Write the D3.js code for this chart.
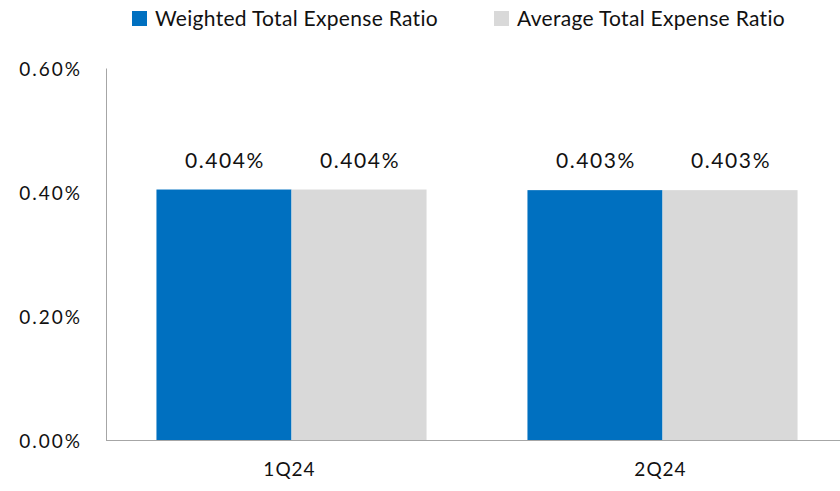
<!DOCTYPE html>
<html><head><meta charset="utf-8">
<script src="https://cdn.jsdelivr.net/npm/d3@7"></script>
<style>body{margin:0;background:#fff}svg{display:block}text{font-family:Lato,"Noto Sans",sans-serif;fill:#111}</style>
</head><body><svg id="c" width="840" height="491"></svg>
<script>
const categories = ["1Q24", "2Q24"];
const seriesNames = ["Weighted Total Expense Ratio", "Average Total Expense Ratio"];
const weighted = [0.404, 0.403];
const average = [0.404, 0.403];
const yTicks = [0, 0.2, 0.4, 0.6];
const colors = ["#0070C0", "#D9D9D9"];

const svg = d3.select("#c");
const x = d3.scaleBand().domain(categories).range([106, 848]).paddingInner(0.272).paddingOuter(0.136);
const xs = d3.scaleBand().domain(seriesNames).range([0, x.bandwidth()]);
const y = d3.scaleLinear().domain([0, 0.6]).range([440, 68]);

const data = categories.map((c, i) => ({c, vals: [weighted[i], average[i]]}));
const g = svg.append("g");
data.forEach(d => {
  d.vals.forEach((v, j) => {
    g.append("rect").attr("x", x(d.c) + xs(seriesNames[j])).attr("y", y(v))
      .attr("width", xs.bandwidth()).attr("height", y(0) - y(v)).attr("fill", colors[j]);
    g.append("text").attr("x", x(d.c) + xs(seriesNames[j]) + xs.bandwidth() / 2 + 1).attr("y", y(v) - 22)
      .attr("text-anchor", "middle").attr("font-size", 21).attr("letter-spacing", 1.6).text(v.toFixed(3) + "%");
  });
});

// axes
const yAxis = svg.append("g").attr("transform", "translate(106,0)")
  .call(d3.axisLeft(y).tickValues(yTicks).tickSize(0).tickPadding(24).tickFormat(d => d.toFixed(2) + "%"));
yAxis.select(".domain").attr("stroke", "#A6A6A6");
yAxis.selectAll("text").attr("font-size", 19).attr("letter-spacing", 2).attr("dy", "0.38em")
  .attr("font-family", "Lato, 'Noto Sans', sans-serif").attr("fill", "#111");

const xAxis = svg.append("g").attr("transform", "translate(0,440)")
  .call(d3.axisBottom(x).tickSize(0).tickPadding(23));
xAxis.select(".domain").attr("stroke", "#A6A6A6").attr("d", "M106,0.5H840");
xAxis.selectAll("text").attr("font-size", 19).attr("letter-spacing", 1).attr("dx", -2)
  .attr("font-family", "Lato, 'Noto Sans', sans-serif").attr("fill", "#111");

// legend
const legX = [132, 494];
seriesNames.forEach((n, j) => {
  svg.append("rect").attr("x", legX[j]).attr("y", 11).attr("width", 15).attr("height", 15).attr("fill", colors[j]);
  svg.append("text").attr("x", legX[j] + 23).attr("y", 26).attr("font-size", 21).attr("letter-spacing", 0.3).text(n);
});
</script></body></html>
